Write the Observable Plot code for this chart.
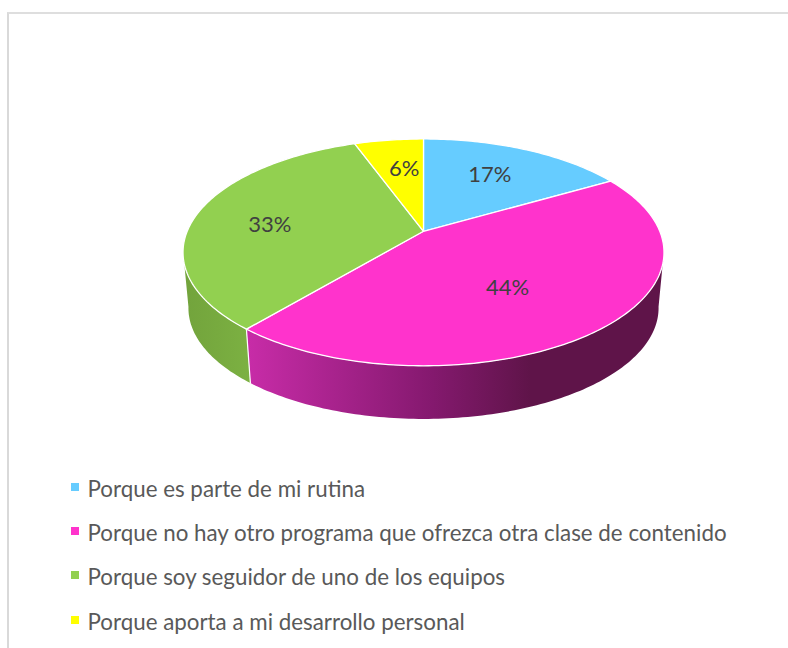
<!DOCTYPE html>
<html>
<head>
<meta charset="utf-8">
<script src="https://cdn.jsdelivr.net/npm/d3@7"></script>
<script src="https://cdn.jsdelivr.net/npm/@observablehq/plot@0.6"></script>
<style>
  html, body { margin: 0; padding: 0; background: #fff; overflow: hidden; }
  #frame { position: absolute; left: 7px; top: 12px; right: -10px; bottom: -10px;
           border-left: 2px solid #d9d9d9; border-top: 2px solid #dedede; }
  #chart { position: absolute; left: 0; top: 0; }
  #legend { position: absolute; left: 0; top: 467px; width: 788px;
            font-family: Lato, sans-serif; font-size: 22.35px; color: #595959; }
  .row { position: relative; height: 44.2px; line-height: 44.2px; padding-left: 87.5px; white-space: nowrap; }
  .key { position: absolute; left: 71px; top: 16px; width: 8px; height: 8px; }
</style>
</head>
<body>
<div id="frame"></div>
<div id="chart"></div>
<div id="legend"></div>
<script>
// Data
const names = [
  "Porque es parte de mi rutina",
  "Porque no hay otro programa que ofrezca otra clase de contenido",
  "Porque soy seguidor de uno de los equipos",
  "Porque aporta a mi desarrollo personal"
];
const shares = [16.67, 44.44, 33.33, 5.56];
const colors = ["#66ccff", "#ff33cc", "#92d050", "#ffff00"];

// Perspective of the tilted disc
const tilt = 0.1858;
const vanish = -22.8, thick = 0.9775;
const rad = d => d * Math.PI / 180;
const total = d3.sum(shares);
const ends = Array.from(d3.cumsum(shares), s => s / total * 360);
const starts = ends.map((e, i) => i ? ends[i - 1] : 0);

function project(deg, r = 1) {
  const u = r * Math.sin(rad(deg)), v = r * Math.cos(rad(deg)), k = 1 + tilt * v;
  return {x: u / k, y: v / k};
}
const lower = p => ({x: p.x * thick, y: vanish + (p.y - vanish) * thick});
const arc = (a, b) => {
  const n = Math.ceil(Math.abs(b - a));
  return d3.range(n + 1).map(i => project(a + (b - a) * i / n));
};

// Top faces
const faces = names.flatMap((name, i) => {
  const pts = [{x: 0, y: 0}, ...arc(starts[i], ends[i]), {x: 0, y: 0}];
  return pts.map(p => ({...p, name}));
});

// Visible side walls
const wall = (a, b) => {
  const top = arc(a, b);
  const pts = [...top, ...top.slice().reverse().map(lower)];
  return [...pts, pts[0]];
};
const wallMagenta = wall(100, ends[1]);
const wallGreen = wall(ends[1], 260);
const wallSeam = [project(ends[1]), lower(project(ends[1]))];

// Percentage labels
const labelRadius = [0.65, 0.57, 0.66, 0.64];
const labelTurn = [-1.5, 5.3, -5, 1.8];
const labels = names.map((name, i) => ({
  ...project((starts[i] + ends[i]) / 2 + labelTurn[i], labelRadius[i]),
  text: `${Math.round(shares[i] / total * 100)}%`
}));

const gradients = () => {
  const defs = d3.create("svg:defs");
  const add = (id, stops) => {
    const g = defs.append("linearGradient").attr("id", id)
      .attr("x1", 0).attr("x2", 1).attr("y1", 0).attr("y2", 0);
    stops.forEach(([o, c]) => g.append("stop").attr("offset", o).attr("stop-color", c));
  };
  add("wallMagenta", [[0, "#c82ca8"], [0.44, "#85196f"], [0.68, "#5f1449"], [1, "#5f1449"]]);
  add("wallGreen", [[0, "#72a33c"], [1, "#7cb142"]]);
  return defs.node();
};

const chart = Plot.plot({
  width: 788, height: 467,
  margin: 0,
  style: {display: "block", background: "transparent"},
  x: {domain: [-1, 1], range: [423 - 236.3, 423 + 236.3], axis: null},
  y: {domain: [-1, 1], range: [230.8 + 109.5, 230.8 - 109.5], axis: null},
  color: {domain: names, range: colors},
  marks: [
    gradients,
    Plot.line(wallMagenta, {x: "x", y: "y", fill: "url(#wallMagenta)"}),
    Plot.line(wallGreen, {x: "x", y: "y", fill: "url(#wallGreen)"}),
    Plot.line(wallSeam, {x: "x", y: "y", stroke: "white", strokeWidth: 1.2}),
    Plot.line(faces, {x: "x", y: "y", z: "name", fill: "name", stroke: "white", strokeWidth: 1.3, strokeLinejoin: "round"}),
    Plot.text(labels, {x: "x", y: "y", text: "text", fill: "#404040", fontFamily: "Lato, sans-serif", fontSize: 22})
  ]
});
document.getElementById("chart").append(chart);

const legend = d3.select("#legend");
names.forEach((name, i) => {
  const row = legend.append("div").attr("class", "row");
  row.append("span").attr("class", "key").style("background", colors[i]);
  row.append("span").text(name);
});
</script>
</body>
</html>
